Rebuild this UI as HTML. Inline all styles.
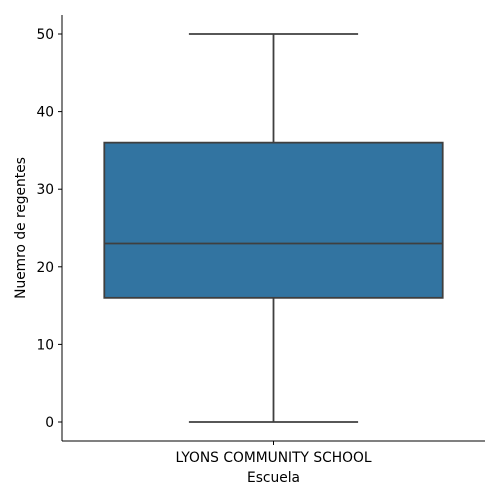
<!DOCTYPE html>
<html><head><meta charset="utf-8"><style>
body{margin:0;background:#fff;}
svg{display:block;font-family:"DejaVu Sans","Liberation Sans",sans-serif;}
</style></head><body>
<svg id="chart" width="500" height="500"></svg>
<script>
const categories = ["LYONS COMMUNITY SCHOOL"];
const whiskerLow = [0];
const q1Values = [16];
const medianValues = [23];
const q3Values = [36];
const whiskerHigh = [50];
const yTicks = [0, 10, 20, 30, 40, 50];

const ns = "http://www.w3.org/2000/svg";
const svg = document.getElementById("chart");
const L = 62, R = 485, T = 15, B = 441;
const yMin = -2.45, yMax = 52.45;
const y = v => B - (v - yMin) / (yMax - yMin) * (B - T);
const bandW = (R - L) / categories.length;
const xc = i => L + bandW * (i + 0.5);
const FS = 13.8;
function mk(tag, attrs, text){
  const e = document.createElementNS(ns, tag);
  for (const k in attrs) e.setAttribute(k, attrs[k]);
  if (text !== undefined) e.textContent = text;
  svg.appendChild(e);
  return e;
}
categories.forEach((c, i) => {
  const cx = xc(i), bw = bandW * 0.8, cw = bw * 0.5;
  const col = "#3f3f3f";
  let e;
  e = mk("line", {x1: cx, x2: cx, y1: y(whiskerLow[i]), y2: y(q1Values[i]), stroke: col, "stroke-width": 1.8});
  
  
  e = mk("line", {x1: cx, x2: cx, y1: y(q3Values[i]), y2: y(whiskerHigh[i]), stroke: col, "stroke-width": 1.8});
  
  
  e = mk("line", {x1: cx - cw/2, x2: cx + cw/2, y1: y(whiskerLow[i]), y2: y(whiskerLow[i]), stroke: col, "stroke-width": 1.8});
  
  
  e = mk("line", {x1: cx - cw/2, x2: cx + cw/2, y1: y(whiskerHigh[i]), y2: y(whiskerHigh[i]), stroke: col, "stroke-width": 1.8});
  
  
  e = mk("rect", {x: cx - bw/2, y: y(q3Values[i]), width: bw, height: y(q1Values[i]) - y(q3Values[i]), fill: "#3274a1", stroke: col, "stroke-width": 1.8});
  
  
  e = mk("line", {x1: cx - bw/2, x2: cx + bw/2, y1: y(medianValues[i]), y2: y(medianValues[i]), stroke: col, "stroke-width": 1.8});
  
  
  e = mk("line", {x1: cx, x2: cx, y1: B, y2: B + 4, stroke: "#000", "stroke-width": 1});
  
  
  e = mk("text", {x: cx, y: B + 21, "text-anchor": "middle", "font-size": FS}, c);
  
  
});
yTicks.forEach(t => {
  let e = mk("line", {x1: L - 4, x2: L, y1: y(t), y2: y(t), stroke: "#000", "stroke-width": 1});
  
  
  e = mk("text", {x: L - 8, y: y(t) + 5, "text-anchor": "end", "font-size": FS}, t);
  
  
});
let ax = mk("line", {x1: L, x2: L, y1: T, y2: B, stroke: "#000", "stroke-width": 1});


ax = mk("line", {x1: L, x2: R, y1: B, y2: B, stroke: "#000", "stroke-width": 1});


let t1 = mk("text", {x: (L + R) / 2, y: 482, "text-anchor": "middle", "font-size": FS}, "Escuela");


let t2 = mk("text", {x: 25, y: (T + B) / 2, "text-anchor": "middle", "font-size": FS, transform: `rotate(-90 25 ${(T + B) / 2})`}, "Nuemro de regentes");


</script>
</body></html>
